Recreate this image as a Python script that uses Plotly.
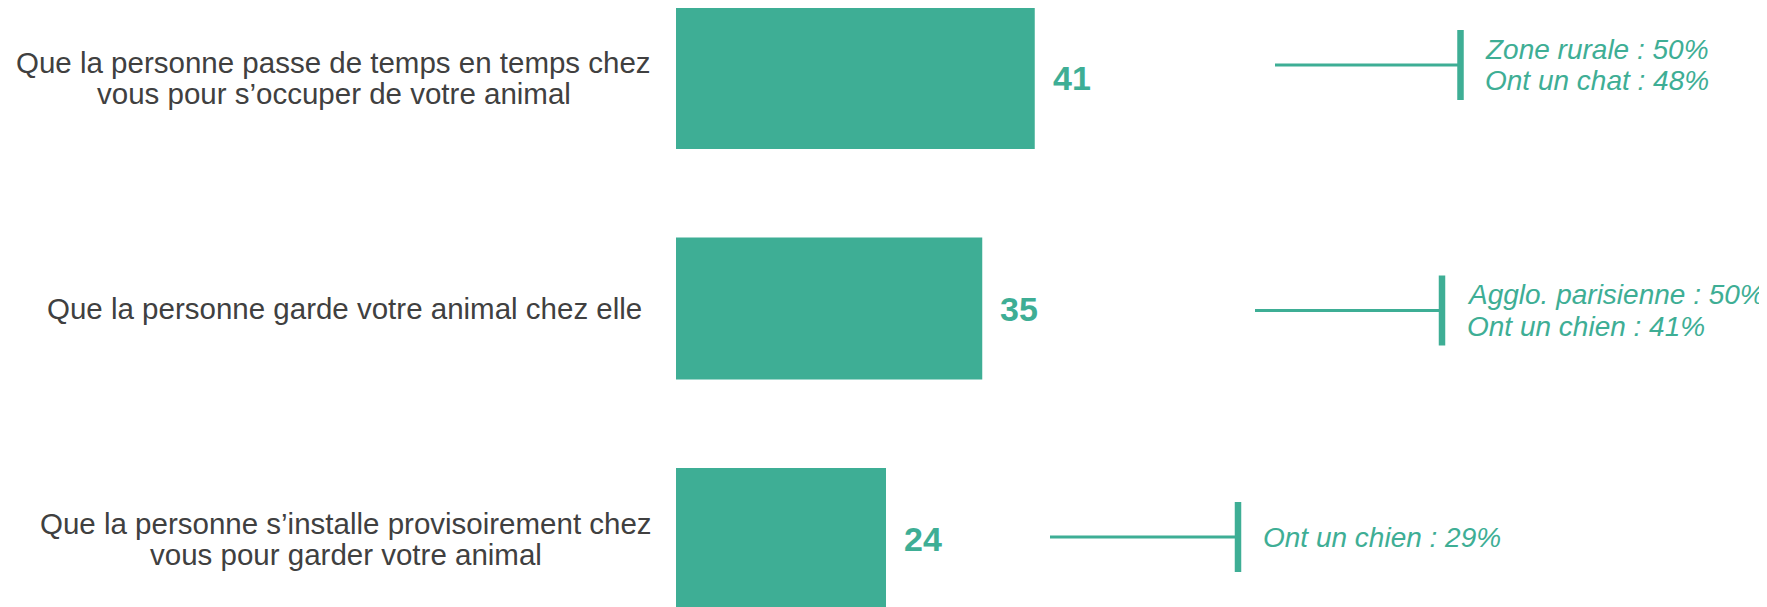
import plotly.graph_objects as go

# ---------------- data ----------------
categories = [
    "Que la personne passe de temps en temps chez\nvous pour s’occuper de votre animal",
    "Que la personne garde votre animal chez elle",
    "Que la personne s’installe provisoirement chez\nvous pour garder votre animal",
]
values = [41, 35, 24]
callouts = [
    ["Zone rurale : 50%", "Ont un chat : 48%"],
    ["Agglo. parisienne : 50%", "Ont un chien : 41%"],
    ["Ont un chien : 29%"],
]

# ---------------- style / layout ----------------
TEAL = "#3EAE95"
GRAY = "#404040"
W, H = 1767, 607
PAGE_OFF = 8           # default body margin of the html page
X0_PX = 676.0          # screen pixel of x = 0
PX_PER_UNIT = 8.75     # pixels per percentage point
Y0_PX = 78.0           # screen pixel centre of first bar
PITCH = 230.5          # pixels between bar centres


def xd(px):
    return (px - X0_PX) / PX_PER_UNIT


def yd(px):
    return (px - Y0_PX) / PITCH


pos = list(range(len(categories)))

fig = go.Figure()
fig.add_trace(go.Bar(
    x=values, y=pos, orientation="h",
    width=142 / PITCH,
    marker=dict(color=TEAL, line=dict(width=0)),
    hoverinfo="skip",
))

annotations = []
shapes = []

# category labels (left), centred text blocks
label_centre_px = [333.5, 344.0, 345.5]
line_gap = 31.5 / PITCH
for i, lab in enumerate(categories):
    lines = lab.split("\n")
    n = len(lines)
    for j, ln in enumerate(lines):
        annotations.append(dict(
            x=xd(label_centre_px[i]), y=pos[i] + (j - (n - 1) / 2) * line_gap,
            xref="x", yref="y", text=ln, showarrow=False,
            xanchor="center", yanchor="middle",
            font=dict(family="Liberation Sans, Arial, sans-serif", size=29.5, color=GRAY),
        ))

# value labels
for i, v in enumerate(values):
    annotations.append(dict(
        x=v, y=pos[i], xref="x", yref="y", text=f"<b>{v}</b>", showarrow=False,
        xanchor="left", yanchor="middle", xshift=16,
        font=dict(family="Liberation Sans, Arial, sans-serif", size=34, color=TEAL),
    ))

# callouts (right)
group_centre_px = [65, 310.5, 537]
hline_px = [(1275, 1459), (1255, 1441), (1050, 1236)]
vline_px = [1460.5, 1442, 1238]
text_px = [1483, 1465, 1261]
cal_gap = 31.5 / PITCH
half_v = 35 / PITCH
for i, lines in enumerate(callouts):
    gy = yd(group_centre_px[i])
    shapes.append(dict(type="line", xref="x", yref="y",
                       x0=xd(hline_px[i][0]), x1=xd(hline_px[i][1]), y0=gy, y1=gy,
                       line=dict(color=TEAL, width=3)))
    shapes.append(dict(type="line", xref="x", yref="y",
                       x0=xd(vline_px[i]), x1=xd(vline_px[i]), y0=gy - half_v, y1=gy + half_v,
                       line=dict(color=TEAL, width=6.5)))
    n = len(lines)
    for j, ln in enumerate(lines):
        annotations.append(dict(
            x=xd(text_px[i]), y=gy + (j - (n - 1) / 2) * cal_gap,
            xref="x", yref="y", text=f"<i>{ln}</i>", showarrow=False,
            xanchor="left", yanchor="middle",
            font=dict(family="Liberation Sans, Arial, sans-serif", size=28, color=TEAL),
        ))

fig.update_layout(
    width=W, height=H, autosize=False,
    margin=dict(l=0, r=0, t=0, b=0, pad=0),
    paper_bgcolor="white", plot_bgcolor="white",
    showlegend=False,
    xaxis=dict(range=[xd(PAGE_OFF), xd(W + PAGE_OFF)], visible=False, fixedrange=True),
    yaxis=dict(range=[yd(H + PAGE_OFF), yd(PAGE_OFF)], visible=False, fixedrange=True),
    annotations=annotations, shapes=shapes,
)

fig.write_html("out.html", config={"displayModeBar": False})
